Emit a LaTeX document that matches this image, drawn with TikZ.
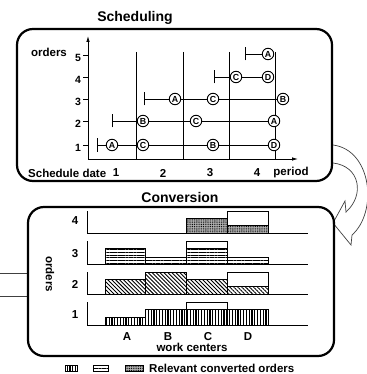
\documentclass[tikz,border=0pt]{standalone}
\usepackage{fontspec}
\setmainfont{Liberation Sans}
\usetikzlibrary{patterns.meta,arrows.meta}
\begin{document}
\begin{tikzpicture}[x=1pt,y=-1pt,
  box/.style={line width=2.2pt, rounded corners=16pt},
  ordc/.style={circle, draw, line width=0.9pt, fill=white, inner sep=0pt, minimum size=11.5pt, font=\fontsize{8.8}{9}\selectfont\bfseries},
  lbl/.style={font=\fontsize{11.5}{12}\selectfont\bfseries, inner sep=0pt},
  ttl/.style={font=\fontsize{14}{15}\selectfont\bfseries, inner sep=0pt},
  conn/.style={line width=0.7pt},
  grid/.style={line width=0.7pt},
  axis/.style={line width=0.8pt},
  bar/.style={draw=black, line width=0.7pt},
  pv/.style={bar, pattern={Lines[angle=90,distance=2.8pt,line width=1.3pt]}},
  ph/.style={bar, pattern={Lines[angle=0,distance=2.7pt,line width=1.2pt]}},
  pd/.style={bar, pattern={Lines[angle=-45,distance=2.8pt,line width=0.9pt]}},
  px/.style={bar, preaction={fill=gray!60}, pattern={Dots[distance=1.8pt,radius=0.55pt]}},
  hollow/.style={draw=black!75, line width=0.7pt},
]
\useasboundingbox (0,0) rectangle (366,374);

% ---------------- Scheduling ----------------
\node[ttl] (t1) at (135,18) {Scheduling};
\draw[box] (17,29) rectangle (332,181);

\draw[grid] (136,52) -- (136,159);
\draw[grid] (183,52) -- (183,159);
\draw[grid] (229,52) -- (229,159);
\draw[grid] (275,52) -- (275,159);

\coordinate (o) at (88,159);
\coordinate (ytop) at (88,36);
\coordinate (xend) at (298,159);
\draw[axis,-{Latex[length=6pt,width=3.5pt]}] (o) -- (ytop);
\draw[axis,-{Latex[length=6pt,width=3.5pt]}] (o) -- (xend);

\node[lbl] (yl) at (49,52) {orders};
\foreach \n/\yy in {5/55,4/77,3/99,2/121,1/145}{
  \draw[axis] (83,\yy) -- (88,\yy);
  \node[lbl,font=\fontsize{10.5}{11}\selectfont\bfseries] (tk\n) at (78,\yy+3) {\n};
}

\node[lbl,anchor=west] (sd) at (28,173) {Schedule date};
\node[lbl] (p1) at (116,173) {1};
\node[lbl] (p2) at (163,173) {2};
\node[lbl] (p3) at (210,173) {3};
\node[lbl] (p4) at (257,173) {4};
\node[lbl] (per) at (291,173) {period};

% row 5
\coordinate (s5) at (245,54);
\node[ordc] (r5a) at (268,54) {A};
\draw[conn] ([yshift=-6.5pt]s5) -- ([yshift=6.5pt]s5);
\draw[conn] (s5) -- (r5a);
% row 4
\coordinate (s4) at (214,77);
\node[ordc] (r4c) at (236,77) {C};
\node[ordc] (r4d) at (268,77) {D};
\draw[conn] ([yshift=-6.5pt]s4) -- ([yshift=6.5pt]s4);
\draw[conn] (s4) -- (r4c) -- (r4d);
% row 3
\coordinate (s3) at (144,99);
\node[ordc] (r3a) at (175,99) {A};
\node[ordc] (r3c) at (213,99) {C};
\node[ordc] (r3b) at (283,99) {B};
\draw[conn] ([yshift=-6.5pt]s3) -- ([yshift=6.5pt]s3);
\draw[conn] (s3) -- (r3a) -- (r3c) -- (r3b);
% row 2
\coordinate (s2) at (112,121);
\node[ordc] (r2b) at (143,121) {B};
\node[ordc] (r2c) at (196,121) {C};
\node[ordc] (r2a) at (274,121) {A};
\draw[conn] ([yshift=-6.5pt]s2) -- ([yshift=6.5pt]s2);
\draw[conn] (s2) -- (r2b) -- (r2c) -- (r2a);
% row 1
\coordinate (s1) at (97,145);
\node[ordc] (r1a) at (112,145) {A};
\node[ordc] (r1c) at (143,145) {C};
\node[ordc] (r1b) at (213,145) {B};
\node[ordc] (r1d) at (274,145) {D};
\draw[conn] ([yshift=-6.5pt]s1) -- ([yshift=6.5pt]s1);
\draw[conn] (s1) -- (r1a) -- (r1c) -- (r1b) -- (r1d);

% ---------------- curved hollow arrow ----------------
\draw[hollow] (333,145) .. controls (372,150) and (378,212) .. (352,235)
  -- (351,245) -- (333,223) -- (345,201) -- (346,212)
  .. controls (365,195) and (360,166) .. (333,163);

% left stub
\draw[hollow] (0,273) -- (27,273);
\draw[hollow] (0,296) -- (27,296);

% ---------------- Conversion ----------------
\node[ttl] (t2) at (180,197) {Conversion};

% panel 4
\draw[px] (186,218) rectangle (227,233);
\draw[bar] (227,211) rectangle (268,233);
\draw[px] (227,225) rectangle (268,233);
% panel 3
\draw[ph] (105,248) rectangle (145,264);
\draw[ph] (145,257) rectangle (186,264);
\draw[bar] (186,241) rectangle (227,264);
\draw[ph] (186,248) rectangle (227,264);
\draw[ph] (227,257) rectangle (268,264);
% panel 2
\draw[pd] (105,279) rectangle (145,294);
\draw[pd] (145,272) rectangle (186,294);
\draw[pd] (186,279) rectangle (227,294);
\draw[bar] (227,272) rectangle (268,294);
\draw[pd] (227,286) rectangle (268,294);
% panel 1
\draw[pv] (105,317) rectangle (145,325);
\draw[pv] (145,309) rectangle (186,325);
\draw[bar] (186,302) rectangle (227,325);
\draw[pv] (186,309) rectangle (227,325);
\draw[pv] (227,309) rectangle (268,325);

% panel axes
\foreach \t/\b/\n/\ly in {211/233/4/221,241/264/3/254,272/294/2/284,302/325/1/315}{
  \draw[axis] (87,\t) -- (87,\b) -- (308,\b);
  \node[lbl] (pn\n) at (75,\ly) {\n};
}

\draw[box] (28,207) rectangle (334,356);

\node[lbl,rotate=-90] (ol) at (50,274) {orders};

\node[lbl] (wa) at (127,337) {A};
\node[lbl] (wb) at (168,337) {B};
\node[lbl] (wc) at (208,337) {C};
\node[lbl] (wd) at (248,337) {D};
\node[lbl] (wcl) at (192,347) {work centers};

% legend
\draw[pv] (65,365) rectangle (77,371);
\draw[ph] (93,365) rectangle (108,371);
\draw[px] (125,365) rectangle (143,371);
\node[lbl,anchor=west] (leg) at (149,368) {Relevant converted orders};
\end{tikzpicture}
\end{document}
